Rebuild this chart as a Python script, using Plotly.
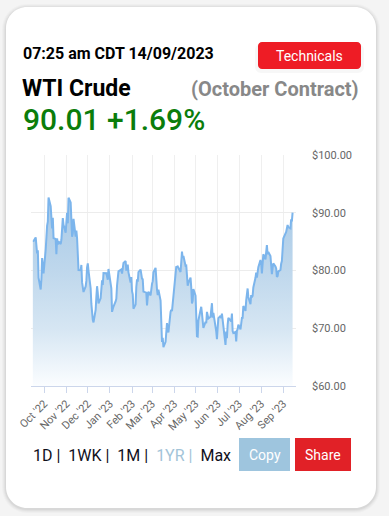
import plotly.graph_objects as go

# ---------------- data ----------------
dates = [
    "2022-09-15", "2022-09-16", "2022-09-19", "2022-09-20", "2022-09-21", "2022-09-22", "2022-09-23",
    "2022-09-26", "2022-09-27", "2022-09-28", "2022-09-29", "2022-09-30",
    "2022-10-03", "2022-10-04", "2022-10-05", "2022-10-06", "2022-10-07", "2022-10-10", "2022-10-11",
    "2022-10-12", "2022-10-13", "2022-10-14", "2022-10-17", "2022-10-18", "2022-10-19", "2022-10-20",
    "2022-10-21", "2022-10-24", "2022-10-25", "2022-10-26", "2022-10-27", "2022-10-28", "2022-10-31",
    "2022-11-01", "2022-11-02", "2022-11-03", "2022-11-04", "2022-11-07", "2022-11-08", "2022-11-09",
    "2022-11-10", "2022-11-11", "2022-11-14", "2022-11-15", "2022-11-16", "2022-11-17", "2022-11-18",
    "2022-11-21", "2022-11-22", "2022-11-23", "2022-11-25", "2022-11-28", "2022-11-29", "2022-11-30",
    "2022-12-01", "2022-12-02", "2022-12-05", "2022-12-06", "2022-12-07", "2022-12-08", "2022-12-09",
    "2022-12-12", "2022-12-13", "2022-12-14", "2022-12-15", "2022-12-16", "2022-12-19", "2022-12-20",
    "2022-12-21", "2022-12-22", "2022-12-23", "2022-12-27", "2022-12-28", "2022-12-29", "2022-12-30",
    "2023-01-03", "2023-01-04", "2023-01-05", "2023-01-06", "2023-01-09", "2023-01-10", "2023-01-11",
    "2023-01-12", "2023-01-13", "2023-01-17", "2023-01-18", "2023-01-19", "2023-01-20", "2023-01-23",
    "2023-01-24", "2023-01-25", "2023-01-26", "2023-01-27", "2023-01-30", "2023-01-31",
    "2023-02-01", "2023-02-02", "2023-02-03", "2023-02-06", "2023-02-07", "2023-02-08", "2023-02-09",
    "2023-02-10", "2023-02-13", "2023-02-14", "2023-02-15", "2023-02-16", "2023-02-17", "2023-02-21",
    "2023-02-22", "2023-02-23", "2023-02-24", "2023-02-27", "2023-02-28",
    "2023-03-01", "2023-03-02", "2023-03-03", "2023-03-06", "2023-03-07", "2023-03-08", "2023-03-09",
    "2023-03-10", "2023-03-13", "2023-03-14", "2023-03-15", "2023-03-16", "2023-03-17", "2023-03-20",
    "2023-03-21", "2023-03-22", "2023-03-23", "2023-03-24", "2023-03-27", "2023-03-28", "2023-03-29",
    "2023-03-30", "2023-03-31",
    "2023-04-03", "2023-04-04", "2023-04-05", "2023-04-06", "2023-04-10", "2023-04-11", "2023-04-12",
    "2023-04-13", "2023-04-14", "2023-04-17", "2023-04-18", "2023-04-19", "2023-04-20", "2023-04-21",
    "2023-04-24", "2023-04-25", "2023-04-26", "2023-04-27", "2023-04-28",
    "2023-05-01", "2023-05-02", "2023-05-03", "2023-05-04", "2023-05-05", "2023-05-08", "2023-05-09",
    "2023-05-10", "2023-05-11", "2023-05-12", "2023-05-15", "2023-05-16", "2023-05-17", "2023-05-18",
    "2023-05-19", "2023-05-22", "2023-05-23", "2023-05-24", "2023-05-25", "2023-05-26", "2023-05-30",
    "2023-05-31",
    "2023-06-01", "2023-06-02", "2023-06-05", "2023-06-06", "2023-06-07", "2023-06-08", "2023-06-09",
    "2023-06-12", "2023-06-13", "2023-06-14", "2023-06-15", "2023-06-16", "2023-06-20", "2023-06-21",
    "2023-06-22", "2023-06-23", "2023-06-26", "2023-06-27", "2023-06-28", "2023-06-29", "2023-06-30",
    "2023-07-03", "2023-07-05", "2023-07-06", "2023-07-07", "2023-07-10", "2023-07-11", "2023-07-12",
    "2023-07-13", "2023-07-14", "2023-07-17", "2023-07-18", "2023-07-19", "2023-07-20", "2023-07-21",
    "2023-07-24", "2023-07-25", "2023-07-26", "2023-07-27", "2023-07-28", "2023-07-31",
    "2023-08-01", "2023-08-02", "2023-08-03", "2023-08-04", "2023-08-07", "2023-08-08", "2023-08-09",
    "2023-08-10", "2023-08-11", "2023-08-14", "2023-08-15", "2023-08-16", "2023-08-17", "2023-08-18",
    "2023-08-21", "2023-08-22", "2023-08-23", "2023-08-24", "2023-08-25", "2023-08-28", "2023-08-29",
    "2023-08-30", "2023-08-31",
    "2023-09-01", "2023-09-05", "2023-09-06", "2023-09-07", "2023-09-08", "2023-09-11", "2023-09-12",
    "2023-09-13", "2023-09-14",
]

prices = [
    85.10, 85.11, 85.73, 84.45, 82.94, 83.49, 78.74,
    76.71, 78.50, 82.15, 81.23, 79.49,
    83.63, 86.52, 87.76, 88.45, 92.64, 91.13, 89.35,
    87.27, 89.11, 85.61, 85.46, 82.82, 85.55, 84.51,
    85.05, 84.58, 85.32, 87.91, 89.08, 87.90, 86.53,
    88.37, 90.00, 88.17, 92.61, 91.79, 88.91, 85.83,
    86.47, 88.96, 85.87, 86.92, 85.59, 81.64, 80.08,
    80.04, 80.95, 77.94, 76.28, 77.24, 78.20, 80.55,
    81.22, 79.98, 76.93, 74.25, 72.01, 71.46, 71.02,
    73.17, 75.39, 77.28, 76.11, 74.29, 75.19, 76.23,
    78.29, 77.49, 79.56, 79.53, 78.96, 78.40, 80.26,
    76.93, 72.84, 73.67, 73.77, 74.63, 75.12, 77.41,
    78.39, 79.86, 80.18, 79.48, 80.33, 81.31, 81.62,
    80.13, 80.15, 81.01, 79.68, 77.90, 78.87,
    76.41, 75.88, 73.39, 74.11, 77.14, 78.47, 78.06,
    79.72, 80.14, 79.06, 78.59, 78.49, 76.34, 76.16,
    73.95, 75.39, 76.32, 75.68, 77.05,
    77.69, 78.16, 79.68, 80.46, 77.58, 76.66, 75.72,
    76.68, 74.80, 71.33, 67.61, 68.35, 66.74, 67.64,
    69.33, 70.90, 69.96, 69.26, 72.81, 73.20, 72.97,
    74.37, 75.67,
    80.42, 80.71, 80.61, 80.70, 79.74, 81.53, 83.26,
    82.16, 82.52, 80.83, 80.86, 79.16, 77.37, 77.87,
    78.76, 77.07, 74.30, 74.76, 76.78,
    75.66, 71.66, 68.60, 68.56, 71.34, 73.16, 73.71,
    72.56, 70.87, 70.04, 71.11, 70.86, 72.83, 71.86,
    71.69, 71.99, 72.91, 74.34, 71.83, 72.67, 69.46,
    68.09,
    70.10, 71.74, 72.15, 71.74, 72.53, 71.29, 70.17,
    67.12, 69.42, 68.27, 70.62, 71.78, 71.19, 72.53,
    69.51, 69.16, 69.37, 67.70, 69.56, 69.86, 70.64,
    69.79, 71.79, 71.80, 73.86, 72.99, 74.83, 75.75,
    76.89, 75.42, 74.15, 75.75, 75.35, 75.63, 77.07,
    78.74, 79.63, 78.78, 80.09, 80.58, 81.80,
    81.37, 79.49, 81.55, 82.82, 81.94, 82.92, 84.40,
    82.82, 83.19, 82.51, 80.99, 79.38, 80.39, 81.25,
    80.72, 80.35, 78.89, 79.05, 79.83, 80.10, 81.16,
    81.63, 83.63,
    85.55, 86.69, 87.54, 87.87, 87.51, 87.29, 88.84,
    88.52, 90.01,
]

y_ticks = [60, 70, 80, 90, 100]
y_tick_labels = ["$" + f"{v:.2f}" for v in y_ticks]
range_buttons = ["1D", "1WK", "1M", "1YR", "Max"]
active_range = "1YR"

title_time = "07:25 am CDT 14/09/2023"
title_name = "WTI Crude"
title_contract = "(October Contract)"
quote_text = "90.01 +1.69%"

# ---------------- layout helpers (pixel -> paper) ----------------
W, H = 389, 516
PL, PR, PT, PB = 31, 296, 155, 386


def fx(px):
    return (px - PL) / (PR - PL)


def fy(py):
    return (PB - py) / (PB - PT)


def pt(x, y):
    return f"{fx(x):.5f},{fy(y):.5f}"


def rrect(x0, y0, x1, y1, r):
    if r <= 0:
        return (f"M{pt(x0,y0)} L{pt(x1,y0)} L{pt(x1,y1)} L{pt(x0,y1)} Z")
    k = 0.5523
    return (
        f"M{pt(x0 + r, y0)} L{pt(x1 - r, y0)} "
        f"C{pt(x1 - r + k*r, y0)} {pt(x1, y0 + r - k*r)} {pt(x1, y0 + r)} "
        f"L{pt(x1, y1 - r)} "
        f"C{pt(x1, y1 - r + k*r)} {pt(x1 - r + k*r, y1)} {pt(x1 - r, y1)} "
        f"L{pt(x0 + r, y1)} "
        f"C{pt(x0 + r - k*r, y1)} {pt(x0, y1 - r + k*r)} {pt(x0, y1 - r)} "
        f"L{pt(x0, y0 + r)} "
        f"C{pt(x0, y0 + r - k*r)} {pt(x0 + r - k*r, y0)} {pt(x0 + r, y0)} Z"
    )


FONT = "Roboto"

shapes = []
# card shadow
for i, a in enumerate([0.018, 0.022, 0.03, 0.04]):
    g = 4 - i
    shapes.append(dict(type="path", xref="paper", yref="paper", layer="below",
                       path=rrect(6 - g, 7 - g + 1, 376 + g, 508 + g + 1, 21 + g),
                       fillcolor=f"rgba(0,0,0,{a})", line=dict(width=0)))
# card
shapes.append(dict(type="path", xref="paper", yref="paper", layer="below",
                   path=rrect(6, 7, 376, 508, 21),
                   fillcolor="#ffffff", line=dict(width=0)))
# Technicals button shadow + button
shapes.append(dict(type="path", xref="paper", yref="paper", layer="below",
                   path=rrect(255, 44, 364, 73, 6),
                   fillcolor="rgba(0,0,0,0.03)", line=dict(width=0)))
shapes.append(dict(type="path", xref="paper", yref="paper", layer="above",
                   path=rrect(258, 42, 361, 69, 4),
                   fillcolor="#ee1c25", line=dict(width=0)))
# Copy / Share buttons
shapes.append(dict(type="path", xref="paper", yref="paper", layer="above",
                   path=rrect(239, 438, 290, 471, 0),
                   fillcolor="#9ec5de", line=dict(width=0)))
shapes.append(dict(type="path", xref="paper", yref="paper", layer="above",
                   path=rrect(295, 438, 351, 471, 0),
                   fillcolor="#e12127", line=dict(width=0)))

ann = []


def text(x, y, s, size, color="#000", weight="normal", xanchor="left"):
    ann.append(dict(x=fx(x), y=fy(y), xref="paper", yref="paper", text=s,
                    showarrow=False, xanchor=xanchor, yanchor="middle",
                    font=dict(family=FONT, size=size, color=color, weight=weight)))


text(21, 53.5, title_time, 16, "#000", "bold")
text(309.5, 55.5, "Technicals", 14, "#ffffff", "normal", "center")
text(20, 88.5, title_name, 23, "#000", "bold")
text(361, 88.5, title_contract, 20, "#888888", "bold", "right")
text(21, 120, quote_text, 30, "#0b7d0b", 500)

parts = []
for i, b in enumerate(range_buttons):
    sep = "\u00a0|\u00a0 " if i < len(range_buttons) - 1 else ""
    if b == active_range:
        parts.append(f"<span style='color:#a3c4d8'>{b}{sep}</span>")
    else:
        parts.append(f"{b}{sep}")
text(31, 455, "".join(parts), 16, "#10101c", "normal")
text(264.5, 454.5, "Copy", 14, "#ffffff", "normal", "center")
text(323, 454.5, "Share", 14, "#ffffff", "normal", "center")

fig = go.Figure()
fig.add_trace(go.Scatter(
    x=dates, y=prices, mode="lines",
    line=dict(color="#7cb5ec", width=2),
    fill="tozeroy",
    fillgradient=dict(type="vertical", start=60, stop=93,
                      colorscale=[[0, "rgb(251,253,255)"], [0.3, "rgb(214,230,243)"],
                                  [0.61, "rgb(190,215,236)"], [0.91, "rgb(172,204,232)"],
                                  [1, "rgb(168,201,230)"]]),
    hoverinfo="x+y", showlegend=False,
))

fig.update_layout(
    width=W, height=H,
    margin=dict(l=PL, r=W - PR, t=PT, b=H - PB, pad=0),
    paper_bgcolor="#f4f4f4",
    plot_bgcolor="rgba(0,0,0,0)",
    font=dict(family=FONT, color="#666666", size=11),
    shapes=shapes, annotations=ann,
    showlegend=False,
)
fig.update_xaxes(
    type="date", range=["2022-09-12 10:00", "2023-09-18 19:00"],
    tick0="2022-10-01", dtick="M1", tickformat="%b '%y", tickangle=-45,
    showgrid=True, gridcolor="#efefef", gridwidth=1,
    ticks="outside", ticklen=6, tickcolor="#ccd6eb",
    showline=True, linecolor="#ccd6eb", linewidth=1,
    tickfont=dict(size=11, color="#666666", family=FONT),
    zeroline=False, automargin=False, fixedrange=True,
)
fig.update_yaxes(
    side="right", range=[60, 100], tickmode="array",
    tickvals=y_ticks, ticktext=y_tick_labels,
    showgrid=True, gridcolor="#ececec", gridwidth=1,
    showline=False, ticks="", ticklabelstandoff=15,
    tickfont=dict(size=11, color="#666666", family=FONT),
    zeroline=False, automargin=False, fixedrange=True,
)

fig.write_html("out.html", config={"displayModeBar": False},
               post_script="document.body.style.margin='0';document.body.style.background='#f4f4f4';")
